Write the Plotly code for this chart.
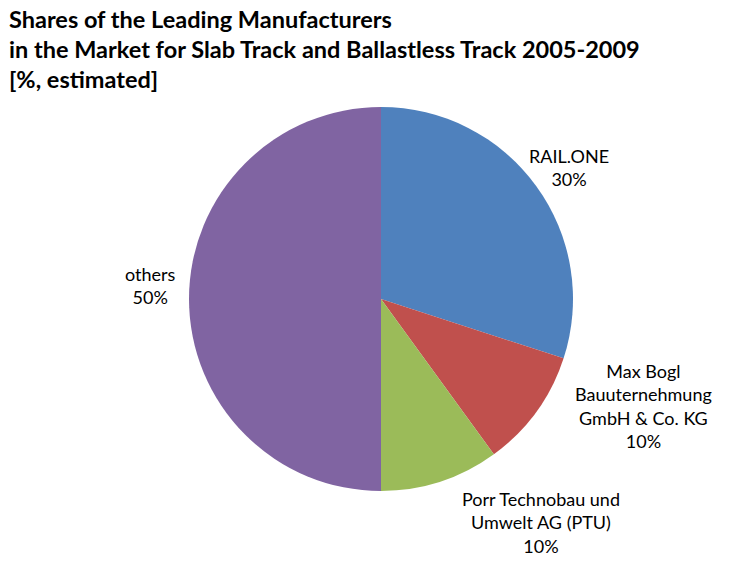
import plotly.graph_objects as go

categories = ["RAIL.ONE", "Max Bogl<br>Bauuternehmung<br>GmbH & Co. KG",
              "Porr Technobau und<br>Umwelt AG (PTU)", "others"]
shares = [30, 10, 10, 50]
colors = ["#4F81BD", "#C0504D", "#9BBB59", "#8064A2"]

W, H = 729, 564
cx, cy, r = 381, 299, 192  # pie centre and radius in pixels

fig = go.Figure(go.Pie(
    labels=categories, values=shares, sort=False, direction="clockwise",
    rotation=0, textinfo="none", hoverinfo="label+percent",
    marker=dict(colors=colors, line=dict(width=0)),
    domain=dict(x=[(cx - r) / W, (cx + r) / W],
                y=[(H - cy - r) / H, (H - cy + r) / H]),
    showlegend=False,
))

font = "Lato, Carlito, sans-serif"
label_pos = [(569, 167), (643, 406), (541, 522), (150, 285)]
for name, v, (x, y) in zip(categories, shares, label_pos):
    fig.add_annotation(x=x / W, y=1 - y / H, xref="paper", yref="paper",
                       text=f"{name}<br>{v}%", showarrow=False,
                       xanchor="center", yanchor="middle", align="center",
                       font=dict(family=font, size=18, color="#000000"))

title_lines = ["Shares of the Leading Manufacturers",
               "in the Market for Slab Track and Ballastless Track 2005-2009",
               "[%, estimated]"]
for i, t in enumerate(title_lines):
    fig.add_annotation(x=7 / W, y=1 - (19 + 30 * i) / H, xref="paper", yref="paper",
                       text=f"<b>{t}</b>", showarrow=False,
                       xanchor="left", yanchor="middle", align="left",
                       font=dict(family=font, size=23.5, color="#000000"))

fig.update_layout(width=W, height=H, margin=dict(l=0, r=0, t=0, b=0),
                  paper_bgcolor="white", plot_bgcolor="white")
fig.write_html("out.html", config={"displayModeBar": False},
               post_script="document.body.style.margin='0';")
